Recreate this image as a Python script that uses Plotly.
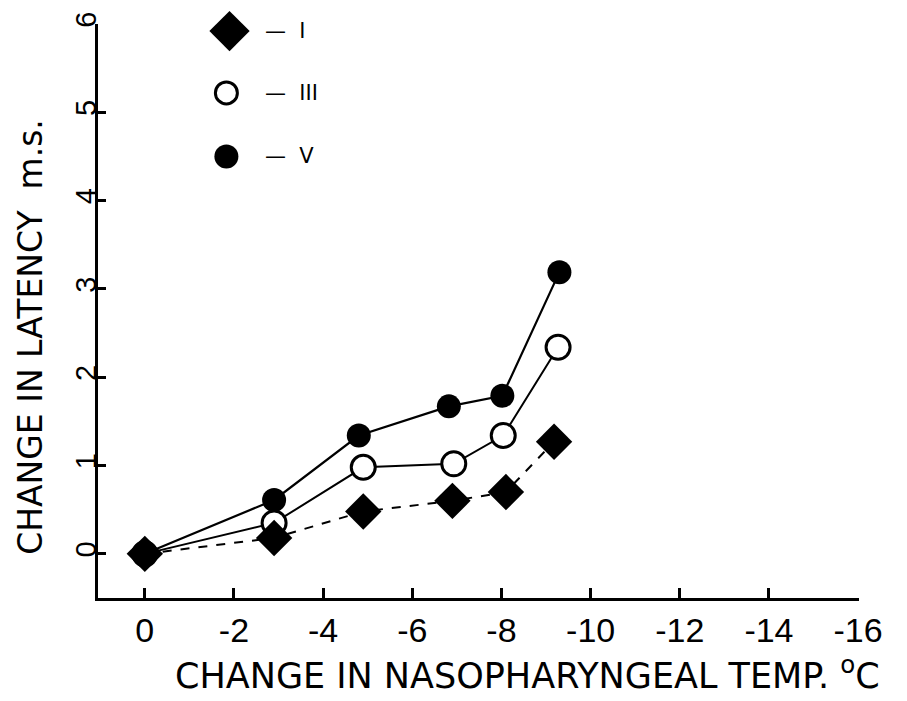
import plotly.graph_objects as go

# ---- data ----
temp_V = [0, -2.9, -4.8, -6.82, -8.02, -9.3]
lat_V = [0, 0.61, 1.34, 1.67, 1.79, 3.19]

temp_III = [0, -2.9, -4.9, -6.93, -8.04, -9.27]
lat_III = [0, 0.35, 0.98, 1.02, 1.34, 2.34]

temp_I = [0, -2.9, -4.9, -6.9, -8.1, -9.18]
lat_I = [0, 0.18, 0.48, 0.6, 0.7, 1.27]

x_ticks = [0, -2, -4, -6, -8, -10, -12, -14, -16]
x_ticklabels = ["0", "-2", "-4", "-6", "-8", "-10", "-12", "-14", "-16"]
y_ticks = [0, 1, 2, 3, 4, 5, 6]
y_ticklabels = ["0", "1", "2", "3", "4", "5", "6"]

legend_names = ["\u2014  I", "\u2014  III", "\u2014  V"]
x_title = "CHANGE IN NASOPHARYNGEAL TEMP. <sup>o</sup>C"
y_title = "CHANGE IN LATENCY  m.s."

FONT = "Liberation Sans"
TFONT = "DejaVu Sans"
fig = go.Figure()

fig.add_trace(go.Scatter(
    x=temp_V, y=lat_V, mode="lines+markers", showlegend=False,
    line=dict(color="black", width=2.2),
    marker=dict(symbol="circle", size=24, color="black"),
))
fig.add_trace(go.Scatter(
    x=temp_III, y=lat_III, mode="lines+markers", showlegend=False,
    line=dict(color="black", width=2),
    marker=dict(symbol="circle", size=24, color="white",
                line=dict(color="black", width=3)),
))
fig.add_trace(go.Scatter(
    x=temp_I, y=lat_I, mode="lines+markers", showlegend=False,
    line=dict(color="black", width=2, dash="dash"),
    marker=dict(symbol="diamond", size=28, color="black"),
))

# ---- in-plot key ----
key_x = [-1.9, -1.83, -1.83]
key_y = [5.92, 5.22, 4.5]
key_text_x = -2.66
key_styles = [
    dict(symbol="diamond", size=31, color="black"),
    dict(symbol="circle", size=22, color="white", line=dict(color="black", width=3)),
    dict(symbol="circle", size=24, color="black"),
]
for kx, ky, st in zip(key_x, key_y, key_styles):
    fig.add_trace(go.Scatter(x=[kx], y=[ky], mode="markers", marker=st,
                             showlegend=False, cliponaxis=False))
for ky, name in zip(key_y, legend_names):
    fig.add_annotation(x=key_text_x, y=ky, text=name, showarrow=False,
                       xanchor="left", yanchor="middle",
                       font=dict(family=TFONT, size=21, color="black"))

# axis titles (placed as annotations to match the original offsets)
fig.add_annotation(xref="paper", yref="paper", x=0.564, y=-0.13,
                   text=x_title, showarrow=False, xanchor="center", yanchor="middle",
                   font=dict(family=TFONT, size=35, color="black"))
fig.add_annotation(xref="paper", yref="paper", x=-0.088, y=0.455,
                   text=y_title, showarrow=False, textangle=-90,
                   xanchor="center", yanchor="middle",
                   font=dict(family=TFONT, size=33, color="black"))

fig.update_layout(
    width=907, height=701,
    margin=dict(l=98, r=48, t=15, b=103),
    paper_bgcolor="white", plot_bgcolor="white",
    font=dict(family=FONT, color="black"),
)
fig.update_xaxes(
    range=[1.05, -16.02], tickvals=x_ticks, ticktext=x_ticklabels,
    showgrid=False, zeroline=False, showline=True, linecolor="black", linewidth=3,
    ticks="inside", ticklen=10, tickwidth=2.5, tickcolor="black",
    tickfont=dict(family=FONT, size=34, color="black"),
)
fig.update_yaxes(
    range=[-0.5, 6.0], tickvals=y_ticks, ticktext=y_ticklabels,
    showgrid=False, zeroline=False, showline=True, linecolor="black", linewidth=3,
    ticks="inside", ticklen=8, tickwidth=2.5, tickcolor="black",
    tickangle=-90, ticklabelstandoff=-13,
    tickfont=dict(family=FONT, size=29, color="black"),
)

fig.write_html("out.html")
